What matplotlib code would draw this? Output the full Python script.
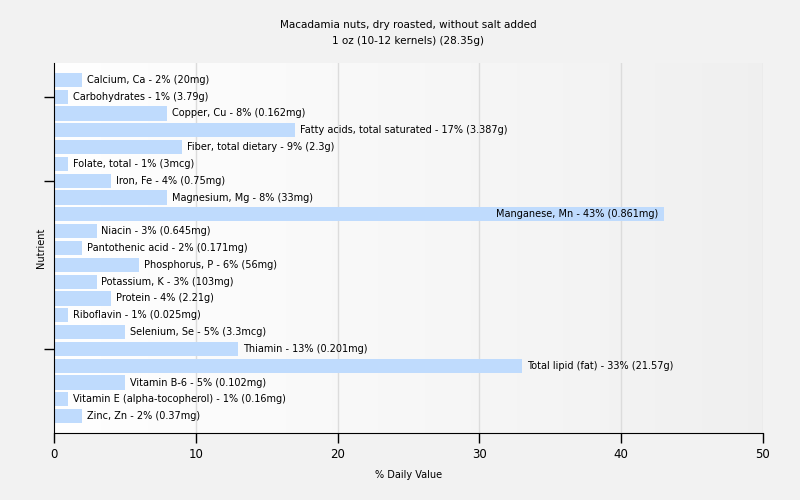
import numpy as np
import matplotlib.pyplot as plt

title = "Macadamia nuts, dry roasted, without salt added\n1 oz (10-12 kernels) (28.35g)"

nutrients = [
    "Calcium, Ca", "Carbohydrates", "Copper, Cu", "Fatty acids, total saturated",
    "Fiber, total dietary", "Folate, total", "Iron, Fe", "Magnesium, Mg",
    "Manganese, Mn", "Niacin", "Pantothenic acid", "Phosphorus, P",
    "Potassium, K", "Protein", "Riboflavin", "Selenium, Se", "Thiamin",
    "Total lipid (fat)", "Vitamin B-6", "Vitamin E (alpha-tocopherol)", "Zinc, Zn",
]
daily_pct = [2, 1, 8, 17, 9, 1, 4, 8, 43, 3, 2, 6, 3, 4, 1, 5, 13, 33, 5, 1, 2]
amounts = [
    "20mg", "3.79g", "0.162mg", "3.387g", "2.3g", "3mcg", "0.75mg", "33mg",
    "0.861mg", "0.645mg", "0.171mg", "56mg", "103mg", "2.21g", "0.025mg",
    "3.3mcg", "0.201mg", "21.57g", "0.102mg", "0.16mg", "0.37mg",
]

bar_color = "#bfdbfd"
bg = "#f2f2f2"

fig = plt.figure(figsize=(8, 5), dpi=100, facecolor=bg)
ax = fig.add_axes([0.0675, 0.134, 0.886, 0.74])

# gradient background of plot area
grad = np.linspace(0, 1, 256).reshape(1, -1)
c0 = np.array([1.0, 1.0, 1.0])
c1 = np.array([0.94, 0.94, 0.94])
img = c0 + (c1 - c0) * grad[..., None]
ax.imshow(img, extent=[0, 50, 21, -1], aspect="auto", zorder=0)

for x in [10, 20, 30, 40, 50]:
    ax.axvline(x, color="#dcdcdc", lw=1, zorder=1)

y = np.arange(len(nutrients))
ax.barh(y, daily_pct, height=0.84, color=bar_color, zorder=2)

for i, (n, p, a) in enumerate(zip(nutrients, daily_pct, amounts)):
    label = f"{n} - {p}% ({a})"
    if p > 40:
        ax.text(p - 0.4, i, label, va="center", ha="right", fontsize=7, zorder=3)
    else:
        ax.text(p + 0.35, i, label, va="center", ha="left", fontsize=7, zorder=3)

ax.set_xlim(0, 50)
ax.set_ylim(21, -1)
ax.set_xticks([0, 10, 20, 30, 40, 50])
ax.set_yticks([1, 6, 16])
ax.set_yticklabels([])
ax.tick_params(axis="both", length=7, width=1, labelsize=8.5)
ax.spines["top"].set_visible(False)
ax.spines["right"].set_visible(False)
ax.set_xlabel("% Daily Value", fontsize=7, labelpad=7)
ax.set_ylabel("Nutrient", fontsize=7, labelpad=-5)
ax.set_title(title, fontsize=7.5, pad=14, linespacing=1.7)

fig.savefig("out.png", dpi=100, facecolor=bg)
